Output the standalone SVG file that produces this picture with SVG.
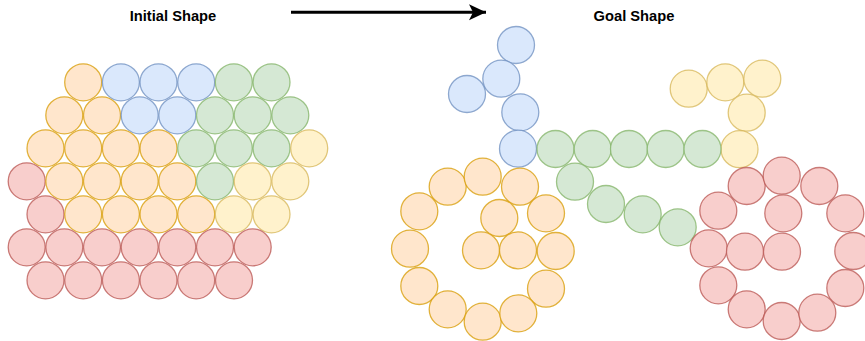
<svg xmlns="http://www.w3.org/2000/svg" width="865" height="341" viewBox="0 0 865 341">
<style>
circle{stroke-width:1.3;stroke-opacity:0.75}
.o{fill:#ffe6cc;stroke:#d79b00}
.b{fill:#dae8fc;stroke:#6c8ebf}
.g{fill:#d5e8d4;stroke:#82b366}
.y{fill:#fff2cc;stroke:#d6b656}
.r{fill:#f8cecc;stroke:#b85450}
text{font-family:"Liberation Sans",Arial,sans-serif;font-weight:bold;font-size:14.7px;fill:#000;text-anchor:middle}
</style>
<defs>
<marker id="ah" markerUnits="userSpaceOnUse" markerWidth="20" markerHeight="18" refX="17" refY="8" orient="auto">
<path d="M0,0 L17,8 L0,16 L4,8 Z" fill="#000"/>
</marker>
</defs>
<rect width="865" height="341" fill="#fff"/>
<g id="title-initial"><text x="173" y="21">Initial Shape</text></g>
<g id="title-goal"><text x="634" y="21">Goal Shape</text></g>
<g id="connectors">
<line x1="291" y1="12.3" x2="486" y2="12.3" stroke="#000" stroke-width="3" marker-end="url(#ah)"/>
</g>
<g id="initial-shape">
<circle class="o" cx="83.2" cy="82.3" r="18.5"/>
<circle class="b" cx="120.9" cy="82.3" r="18.5"/>
<circle class="b" cx="158.5" cy="82.3" r="18.5"/>
<circle class="b" cx="196.2" cy="82.3" r="18.5"/>
<circle class="g" cx="233.8" cy="82.3" r="18.5"/>
<circle class="g" cx="271.5" cy="82.3" r="18.5"/>
<circle class="o" cx="64.3" cy="115.3" r="18.5"/>
<circle class="o" cx="102" cy="115.3" r="18.5"/>
<circle class="b" cx="139.7" cy="115.3" r="18.5"/>
<circle class="b" cx="177.3" cy="115.3" r="18.5"/>
<circle class="g" cx="215" cy="115.3" r="18.5"/>
<circle class="g" cx="252.7" cy="115.3" r="18.5"/>
<circle class="g" cx="290.3" cy="115.3" r="18.5"/>
<circle class="o" cx="45.5" cy="148.3" r="18.5"/>
<circle class="o" cx="83.2" cy="148.3" r="18.5"/>
<circle class="o" cx="120.9" cy="148.3" r="18.5"/>
<circle class="o" cx="158.5" cy="148.3" r="18.5"/>
<circle class="g" cx="196.2" cy="148.3" r="18.5"/>
<circle class="g" cx="233.8" cy="148.3" r="18.5"/>
<circle class="g" cx="271.5" cy="148.3" r="18.5"/>
<circle class="y" cx="309.2" cy="148.3" r="18.5"/>
<circle class="r" cx="26.7" cy="181.3" r="18.5"/>
<circle class="o" cx="64.3" cy="181.3" r="18.5"/>
<circle class="o" cx="102" cy="181.3" r="18.5"/>
<circle class="o" cx="139.7" cy="181.3" r="18.5"/>
<circle class="o" cx="177.3" cy="181.3" r="18.5"/>
<circle class="g" cx="215" cy="181.3" r="18.5"/>
<circle class="y" cx="252.7" cy="181.3" r="18.5"/>
<circle class="y" cx="290.3" cy="181.3" r="18.5"/>
<circle class="r" cx="45.5" cy="214.3" r="18.5"/>
<circle class="o" cx="83.2" cy="214.3" r="18.5"/>
<circle class="o" cx="120.9" cy="214.3" r="18.5"/>
<circle class="o" cx="158.5" cy="214.3" r="18.5"/>
<circle class="o" cx="196.2" cy="214.3" r="18.5"/>
<circle class="y" cx="233.8" cy="214.3" r="18.5"/>
<circle class="y" cx="271.5" cy="214.3" r="18.5"/>
<circle class="r" cx="26.7" cy="247.3" r="18.5"/>
<circle class="r" cx="64.3" cy="247.3" r="18.5"/>
<circle class="r" cx="102" cy="247.3" r="18.5"/>
<circle class="r" cx="139.7" cy="247.3" r="18.5"/>
<circle class="r" cx="177.3" cy="247.3" r="18.5"/>
<circle class="r" cx="215" cy="247.3" r="18.5"/>
<circle class="r" cx="252.7" cy="247.3" r="18.5"/>
<circle class="r" cx="45.5" cy="280.3" r="18.5"/>
<circle class="r" cx="83.2" cy="280.3" r="18.5"/>
<circle class="r" cx="120.9" cy="280.3" r="18.5"/>
<circle class="r" cx="158.5" cy="280.3" r="18.5"/>
<circle class="r" cx="196.2" cy="280.3" r="18.5"/>
<circle class="r" cx="234" cy="280.3" r="18.5"/>
</g>
<g id="goal-shape">
<circle class="b" cx="516" cy="45" r="18.5"/>
<circle class="b" cx="501.3" cy="78.7" r="18.5"/>
<circle class="b" cx="467" cy="94" r="18.5"/>
<circle class="b" cx="520.3" cy="112.3" r="18.5"/>
<circle class="b" cx="518" cy="148.7" r="18.5"/>
<circle class="y" cx="688.7" cy="88.7" r="18.5"/>
<circle class="y" cx="725.3" cy="82.3" r="18.5"/>
<circle class="y" cx="762.3" cy="78.7" r="18.5"/>
<circle class="y" cx="746.7" cy="112.7" r="18.5"/>
<circle class="y" cx="739.5" cy="149.2" r="18.5"/>
<circle class="g" cx="555.5" cy="149" r="18.5"/>
<circle class="g" cx="592.7" cy="149" r="18.5"/>
<circle class="g" cx="629" cy="149" r="18.5"/>
<circle class="g" cx="665.7" cy="149" r="18.5"/>
<circle class="g" cx="702.5" cy="149" r="18.5"/>
<circle class="g" cx="575" cy="181.7" r="18.5"/>
<circle class="g" cx="606" cy="204" r="18.5"/>
<circle class="g" cx="642.7" cy="214.3" r="18.5"/>
<circle class="g" cx="677.7" cy="227.3" r="18.5"/>
<circle class="o" cx="447.7" cy="186.7" r="18.5"/>
<circle class="o" cx="482.7" cy="176.7" r="18.5"/>
<circle class="o" cx="520" cy="186.7" r="18.5"/>
<circle class="o" cx="419.3" cy="211.3" r="18.5"/>
<circle class="o" cx="499.3" cy="218" r="18.5"/>
<circle class="o" cx="546" cy="213.3" r="18.5"/>
<circle class="o" cx="410" cy="248.7" r="18.5"/>
<circle class="o" cx="481" cy="250.3" r="18.5"/>
<circle class="o" cx="518" cy="250.3" r="18.5"/>
<circle class="o" cx="555.7" cy="251" r="18.5"/>
<circle class="o" cx="419.3" cy="286" r="18.5"/>
<circle class="o" cx="546" cy="288.7" r="18.5"/>
<circle class="o" cx="447.7" cy="309.3" r="18.5"/>
<circle class="o" cx="482.7" cy="321.7" r="18.5"/>
<circle class="o" cx="518.3" cy="313.3" r="18.5"/>
<circle class="r" cx="746.7" cy="186" r="18.5"/>
<circle class="r" cx="781.7" cy="175.7" r="18.5"/>
<circle class="r" cx="819.3" cy="186" r="18.5"/>
<circle class="r" cx="718.3" cy="210.7" r="18.5"/>
<circle class="r" cx="783.3" cy="213.3" r="18.5"/>
<circle class="r" cx="845.3" cy="213.3" r="18.5"/>
<circle class="r" cx="708.7" cy="248.3" r="18.5"/>
<circle class="r" cx="745" cy="251.7" r="18.5"/>
<circle class="r" cx="782" cy="251.7" r="18.5"/>
<circle class="r" cx="853.3" cy="251" r="18.5"/>
<circle class="r" cx="718.3" cy="285.3" r="18.5"/>
<circle class="r" cx="845.3" cy="288" r="18.5"/>
<circle class="r" cx="746.7" cy="309.3" r="18.5"/>
<circle class="r" cx="781.7" cy="321" r="18.5"/>
<circle class="r" cx="817.3" cy="312.7" r="18.5"/>
</g>
</svg>
